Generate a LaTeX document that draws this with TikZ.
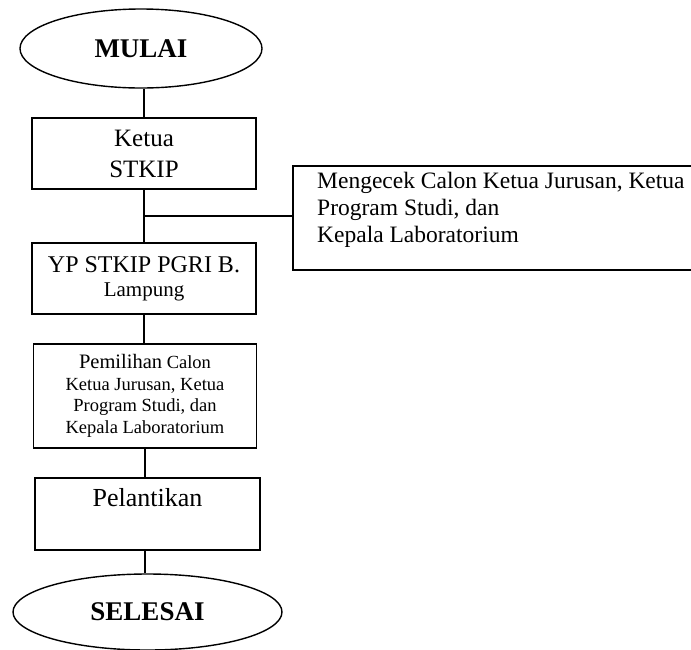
\documentclass[tikz,border=0pt]{standalone}
\usepackage{fontspec}
\setmainfont{Liberation Serif}
\usetikzlibrary{shapes.geometric}
\begin{document}
\begin{tikzpicture}[x=1pt,y=-1pt,
  terminal/.style={ellipse, draw, line width=1.4pt, inner sep=0pt,
    font=\fontsize{27}{32}\selectfont\bfseries},
  stepbox/.style={rectangle, draw, line width=1.9pt, anchor=north,
    align=center, inner sep=0pt},
  notebox/.style={rectangle, draw, line width=1.8pt, anchor=north west, inner sep=0pt},
  link/.style={line width=1.9pt}]
\useasboundingbox (0,0) rectangle (691,649);
\clip (0,0) rectangle (691,649);

% start / end terminals
\node[terminal, minimum width=242pt, minimum height=79pt] (start) at (141,48.5) {MULAI};
\node[terminal, minimum width=269pt, minimum height=76pt] (sel) at (147.5,612) {SELESAI};

% process steps
\node[stepbox, minimum width=224pt, minimum height=71pt,
  font=\fontsize{25}{31}\selectfont] (ketua) at (144,117) {Ketua\\STKIP};
\node[stepbox, minimum width=224pt, minimum height=71pt,
  font=\fontsize{24}{24}\selectfont] (yp) at (144,242)
  {YP STKIP PGRI B.\\{\fontsize{21}{24}\selectfont Lampung}};
\node[stepbox, minimum width=223pt, minimum height=104pt,
  font=\fontsize{18.5}{21.7}\selectfont] (pem) at (145,343)
  {{\fontsize{20.5}{21.7}\selectfont Pemilihan} Calon\\Ketua Jurusan, Ketua\\Program Studi, dan\\Kepala Laboratorium};
\node[stepbox, minimum width=225pt, text height=29pt, text depth=43pt,
  font=\fontsize{26}{30}\selectfont] (pel) at (147.5,477) {Pelantikan};

% side note, open to the right
\node[notebox, minimum width=470pt, minimum height=104pt] (chk) at (292,165) {};
\node[anchor=north west, align=left, inner sep=0pt,
  font=\fontsize{23.5}{27}\selectfont] (chktext) at (317,172)
  {Mengecek Calon Ketua Jurusan, Ketua\\Program Studi, dan\\Kepala Laboratorium};

% connectors
\draw[link] (ketua.north) -- (ketua.north |- start.south);
\draw[link] (ketua.south) -- (yp.north) coordinate[pos=0.5] (fork);
\draw[link] (fork) -- (fork -| chk.west);
\draw[link] (yp.south) -- (yp.south |- pem.north);
\draw[link] (pem.south) -- (pem.south |- pel.north);
\draw[link] (pem.south |- pel.south) -- (pem.south |- sel.north);
\end{tikzpicture}
\end{document}
